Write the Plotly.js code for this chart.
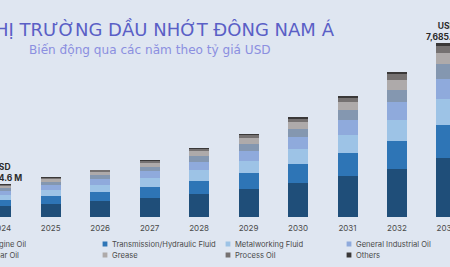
<!DOCTYPE html>
<html>
<head>
<meta charset="utf-8">
<script src="https://cdn.plot.ly/plotly-3.0.1.min.js"></script>
<style>
html,body{margin:0;padding:0;background:#dfe6f1;}
#chart{width:450px;height:267px;}
</style>
</head>
<body>
<div id="chart"></div>
<script>
// ---- data (USD million) ----
var years = ["2024","2025","2026","2027","2028","2029","2030","2031","2032","2033"];
var seriesNames = ["Engine Oil","Transmission/Hydraulic Fluid","Metalworking Fluid","General Industrial Oil","Gear Oil","Grease","Process Oil","Others"];
var engineOil       = [496.6, 595, 715, 858, 1030, 1240, 1495, 1810, 2120, 2593];
var transmission    = [275, 330, 398, 478, 580, 698, 840, 1015, 1224, 1458];
var metalworking    = [215, 262, 315, 378, 460, 552, 665, 805, 958, 1162];
var generalIndOil   = [175, 208, 250, 300, 365, 440, 530, 640, 764, 883];
var gearOil         = [125, 148, 178, 214, 260, 312, 376, 455, 530, 676];
var grease          = [95, 115, 138, 165, 200, 240, 290, 350, 442, 473];
var processOil      = [50, 60, 72, 86, 105, 127, 152, 185, 265, 322];
var others          = [23, 27, 32, 39, 48, 57, 69, 84, 102, 118.4];
var labelYears = ["2024","2033"];
var labelTexts = ["USD<br>1,454.6 M","USD<br>7,685.4 M"];

// ---- styling ----
var colors = ["#1f4e79","#2e75b6","#9dc3e6","#8faadc","#8497b0","#aeaaaa","#757171","#3a3838"];
var allSeries = [engineOil, transmission, metalworking, generalIndOil, gearOil, grease, processOil, others];
var legendIds = ["legend","legend3","legend5","legend7","legend2","legend4","legend6","legend8"];

var traces = allSeries.map(function(vals, i){
  return {
    type: "bar", name: seriesNames[i], x: years, y: vals,
    marker: {color: colors[i], line: {width: 0}},
    legend: legendIds[i], hoverinfo: "skip"
  };
});

var totals = years.map(function(_, j){
  return allSeries.reduce(function(s, arr){ return s + arr[j]; }, 0);
});

var annotations = labelYears.map(function(yr, k){
  var j = years.indexOf(yr);
  return {
    x: j, y: totals[j], xref: "x", yref: "y",
    text: "<b>" + labelTexts[k] + "</b>", showarrow: false,
    xanchor: "center", yanchor: "bottom", yshift: -1,
    font: {family: "Inter, sans-serif", size: 8.5, color: "#2b2b2b"}, align: "center"
  };
});
annotations.push({
  xref: "paper", yref: "paper", x: 149.5/450, y: (217-50)/217,
  xanchor: "center", yanchor: "middle", showarrow: false,
  text: "Biến động qua các năm theo tỷ giá USD",
  font: {family: "DejaVu Sans, Verdana, sans-serif", size: 12.1, color: "#8b8fe0"}
});

var colX = [-50, 72, 195, 316];
var rowY = [244, 255];
var layout = {
  width: 450, height: 267,
  margin: {l: 0, r: 0, t: 0, b: 50, autoexpand: false},
  paper_bgcolor: "#dfe6f1", plot_bgcolor: "#dfe6f1",
  barmode: "stack", bargap: 0.596,
  title: {
    text: "THỊ TRƯỜNG DẦU NHỚT ĐÔNG NAM Á",
    xref: "container", yref: "container",
    x: 159/450, xanchor: "center", y: 1 - 29.5/267, yanchor: "middle",
    font: {family: "DejaVu Sans, Verdana, sans-serif", size: 18, color: "#5a5fc6"}
  },
  xaxis: {
    type: "category", range: [-0.0249, 9.072],
    showgrid: false, zeroline: false, showline: false, ticks: "",
    tickfont: {family: "Inter, sans-serif", size: 8, color: "#4a4a4a"},
    ticklabelstandoff: 5, fixedrange: true
  },
  yaxis: {
    range: [0, 217/174*7685.4], showgrid: false, zeroline: false,
    showticklabels: false, showline: false, ticks: "", fixedrange: true
  },
  annotations: annotations,
  showlegend: true
};
var legendFont = {family: "Inter, sans-serif", size: 7.6, color: "#4a4a4a"};
legendIds.forEach(function(id, i){
  var col = i % 4, row = Math.floor(i / 4);
  layout[id] = {
    x: colX[col]/450, xanchor: "left", xref: "paper",
    y: (217 - rowY[row])/217, yanchor: "middle", yref: "paper",
    orientation: "v", bgcolor: "rgba(0,0,0,0)", borderwidth: 0,
    font: legendFont, itemclick: false, itemdoubleclick: false
  };
});

function shrinkSwatches(gd){
  var paths = gd.querySelectorAll(".legendpoints path");
  Array.prototype.forEach.call(paths, function(path){
    var base = path.getAttribute("transform") || "";
    var dx = 12;
    try {
      var item = path.parentNode;
      while(item && item.getAttribute && !/\btraces\b/.test(item.getAttribute("class") || "")) item = item.parentNode;
      var txt = item && item.querySelector ? item.querySelector("text") : null;
      if(txt){
        var tb = txt.getBoundingClientRect();
        var pb = path.getBoundingClientRect();
        if(tb.width > 0 && pb.width > 0) dx = (tb.left - 7) - (pb.left + pb.width / 2);
      }
    } catch(e) {}
    path.setAttribute("transform", base + " translate(" + dx.toFixed(2) + ",0) scale(0.4)");
  });
}

Plotly.newPlot("chart", traces, layout, {staticPlot: true, displayModeBar: false}).then(function(gd){
  shrinkSwatches(gd || document.getElementById("chart"));
});
</script>
</body>
</html>
